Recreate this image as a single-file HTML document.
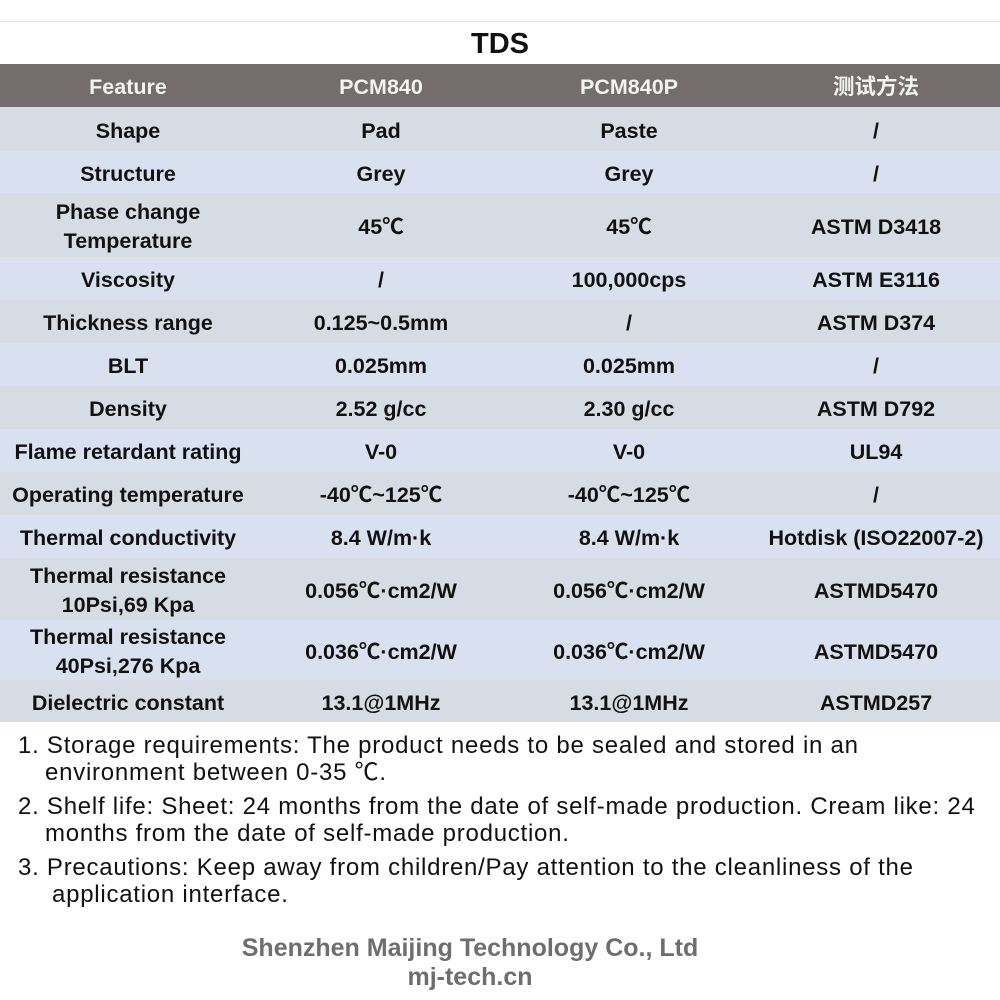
<!DOCTYPE html>
<html><head><meta charset="utf-8"><style>
body{margin:0;width:1000px;height:1000px;background:#fff;position:relative;overflow:hidden;font-family:"Liberation Sans","Noto Sans CJK SC",sans-serif;}
.l{position:absolute;left:0;width:1000px;}
.r{position:absolute;left:0;width:1000px;display:flex;}
.r div{display:flex;align-items:center;justify-content:center;text-align:center;font-weight:bold;font-size:21.5px;color:#111;line-height:29px;padding-top:4px;box-sizing:border-box;}
.c1{width:256px}.c2{width:250px}.c3{width:246px}.c4{width:248px}
.h div{color:#f4f4f4;}
.n{position:absolute;left:18px;font-size:24px;letter-spacing:0.75px;color:#111;line-height:27px;white-space:nowrap;}
.f{position:absolute;width:1000px;left:-30px;text-align:center;font-weight:bold;font-size:25px;color:#6e6e6e;}
</style></head><body>
<div class="l" style="top:21px;height:1px;background:#e6e6e6"></div>
<div class="l" style="top:28px;text-align:center;font-weight:bold;font-size:29px;color:#111">TDS</div>
<div class="r h" style="top:64px;height:43px;background:#736e6d"><div class="c1">Feature</div><div class="c2">PCM840</div><div class="c3">PCM840P</div><div class="c4">测试方法</div></div>
<div class="r" style="top:107px;height:44px;background:#d7dce4"><div class="c1">Shape</div><div class="c2">Pad</div><div class="c3">Paste</div><div class="c4">/</div></div>
<div class="r" style="top:151px;height:42px;background:#d9e0ef"><div class="c1">Structure</div><div class="c2">Grey</div><div class="c3">Grey</div><div class="c4">/</div></div>
<div class="r" style="top:193px;height:64px;background:#d7dce4"><div class="c1">Phase change<br>Temperature</div><div class="c2">45℃</div><div class="c3">45℃</div><div class="c4">ASTM D3418</div></div>
<div class="r" style="top:257px;height:43px;background:#d9e0ef"><div class="c1">Viscosity</div><div class="c2">/</div><div class="c3">100,000cps</div><div class="c4">ASTM E3116</div></div>
<div class="r" style="top:300px;height:43px;background:#d7dce4"><div class="c1">Thickness range</div><div class="c2">0.125~0.5mm</div><div class="c3">/</div><div class="c4">ASTM D374</div></div>
<div class="r" style="top:343px;height:43px;background:#d9e0ef"><div class="c1">BLT</div><div class="c2">0.025mm</div><div class="c3">0.025mm</div><div class="c4">/</div></div>
<div class="r" style="top:386px;height:43px;background:#d7dce4"><div class="c1">Density</div><div class="c2">2.52 g/cc</div><div class="c3">2.30 g/cc</div><div class="c4">ASTM D792</div></div>
<div class="r" style="top:429px;height:43px;background:#d9e0ef"><div class="c1">Flame retardant rating</div><div class="c2">V-0</div><div class="c3">V-0</div><div class="c4">UL94</div></div>
<div class="r" style="top:472px;height:43px;background:#d7dce4"><div class="c1">Operating temperature</div><div class="c2">-40℃~125℃</div><div class="c3">-40℃~125℃</div><div class="c4">/</div></div>
<div class="r" style="top:515px;height:43px;background:#d9e0ef"><div class="c1">Thermal conductivity</div><div class="c2">8.4 W/m·k</div><div class="c3">8.4 W/m·k</div><div class="c4">Hotdisk (ISO22007-2)</div></div>
<div class="r" style="top:558px;height:62px;background:#d7dce4"><div class="c1">Thermal resistance<br>10Psi,69 Kpa</div><div class="c2">0.056℃·cm2/W</div><div class="c3">0.056℃·cm2/W</div><div class="c4">ASTMD5470</div></div>
<div class="r" style="top:620px;height:60px;background:#d9e0ef"><div class="c1">Thermal resistance<br>40Psi,276 Kpa</div><div class="c2">0.036℃·cm2/W</div><div class="c3">0.036℃·cm2/W</div><div class="c4">ASTMD5470</div></div>
<div class="r" style="top:680px;height:42px;background:#d7dce4"><div class="c1">Dielectric constant</div><div class="c2">13.1@1MHz</div><div class="c3">13.1@1MHz</div><div class="c4">ASTMD257</div></div>
<div class="n" style="top:732px">1. Storage requirements: The product needs to be sealed and stored in an<br><span style="padding-left:27px">environment between 0-35 ℃.</span></div>
<div class="n" style="top:793px">2. Shelf life: Sheet: 24 months from the date of self-made production. Cream like: 24<br><span style="padding-left:27px">months from the date of self-made production.</span></div>
<div class="n" style="top:854px">3. Precautions: Keep away from children/Pay attention to the cleanliness of the<br><span style="padding-left:34px">application interface.</span></div>
<div class="f" style="top:934px">Shenzhen Maijing Technology Co., Ltd</div>
<div class="f" style="top:963px">mj-tech.cn</div>
</body></html>
